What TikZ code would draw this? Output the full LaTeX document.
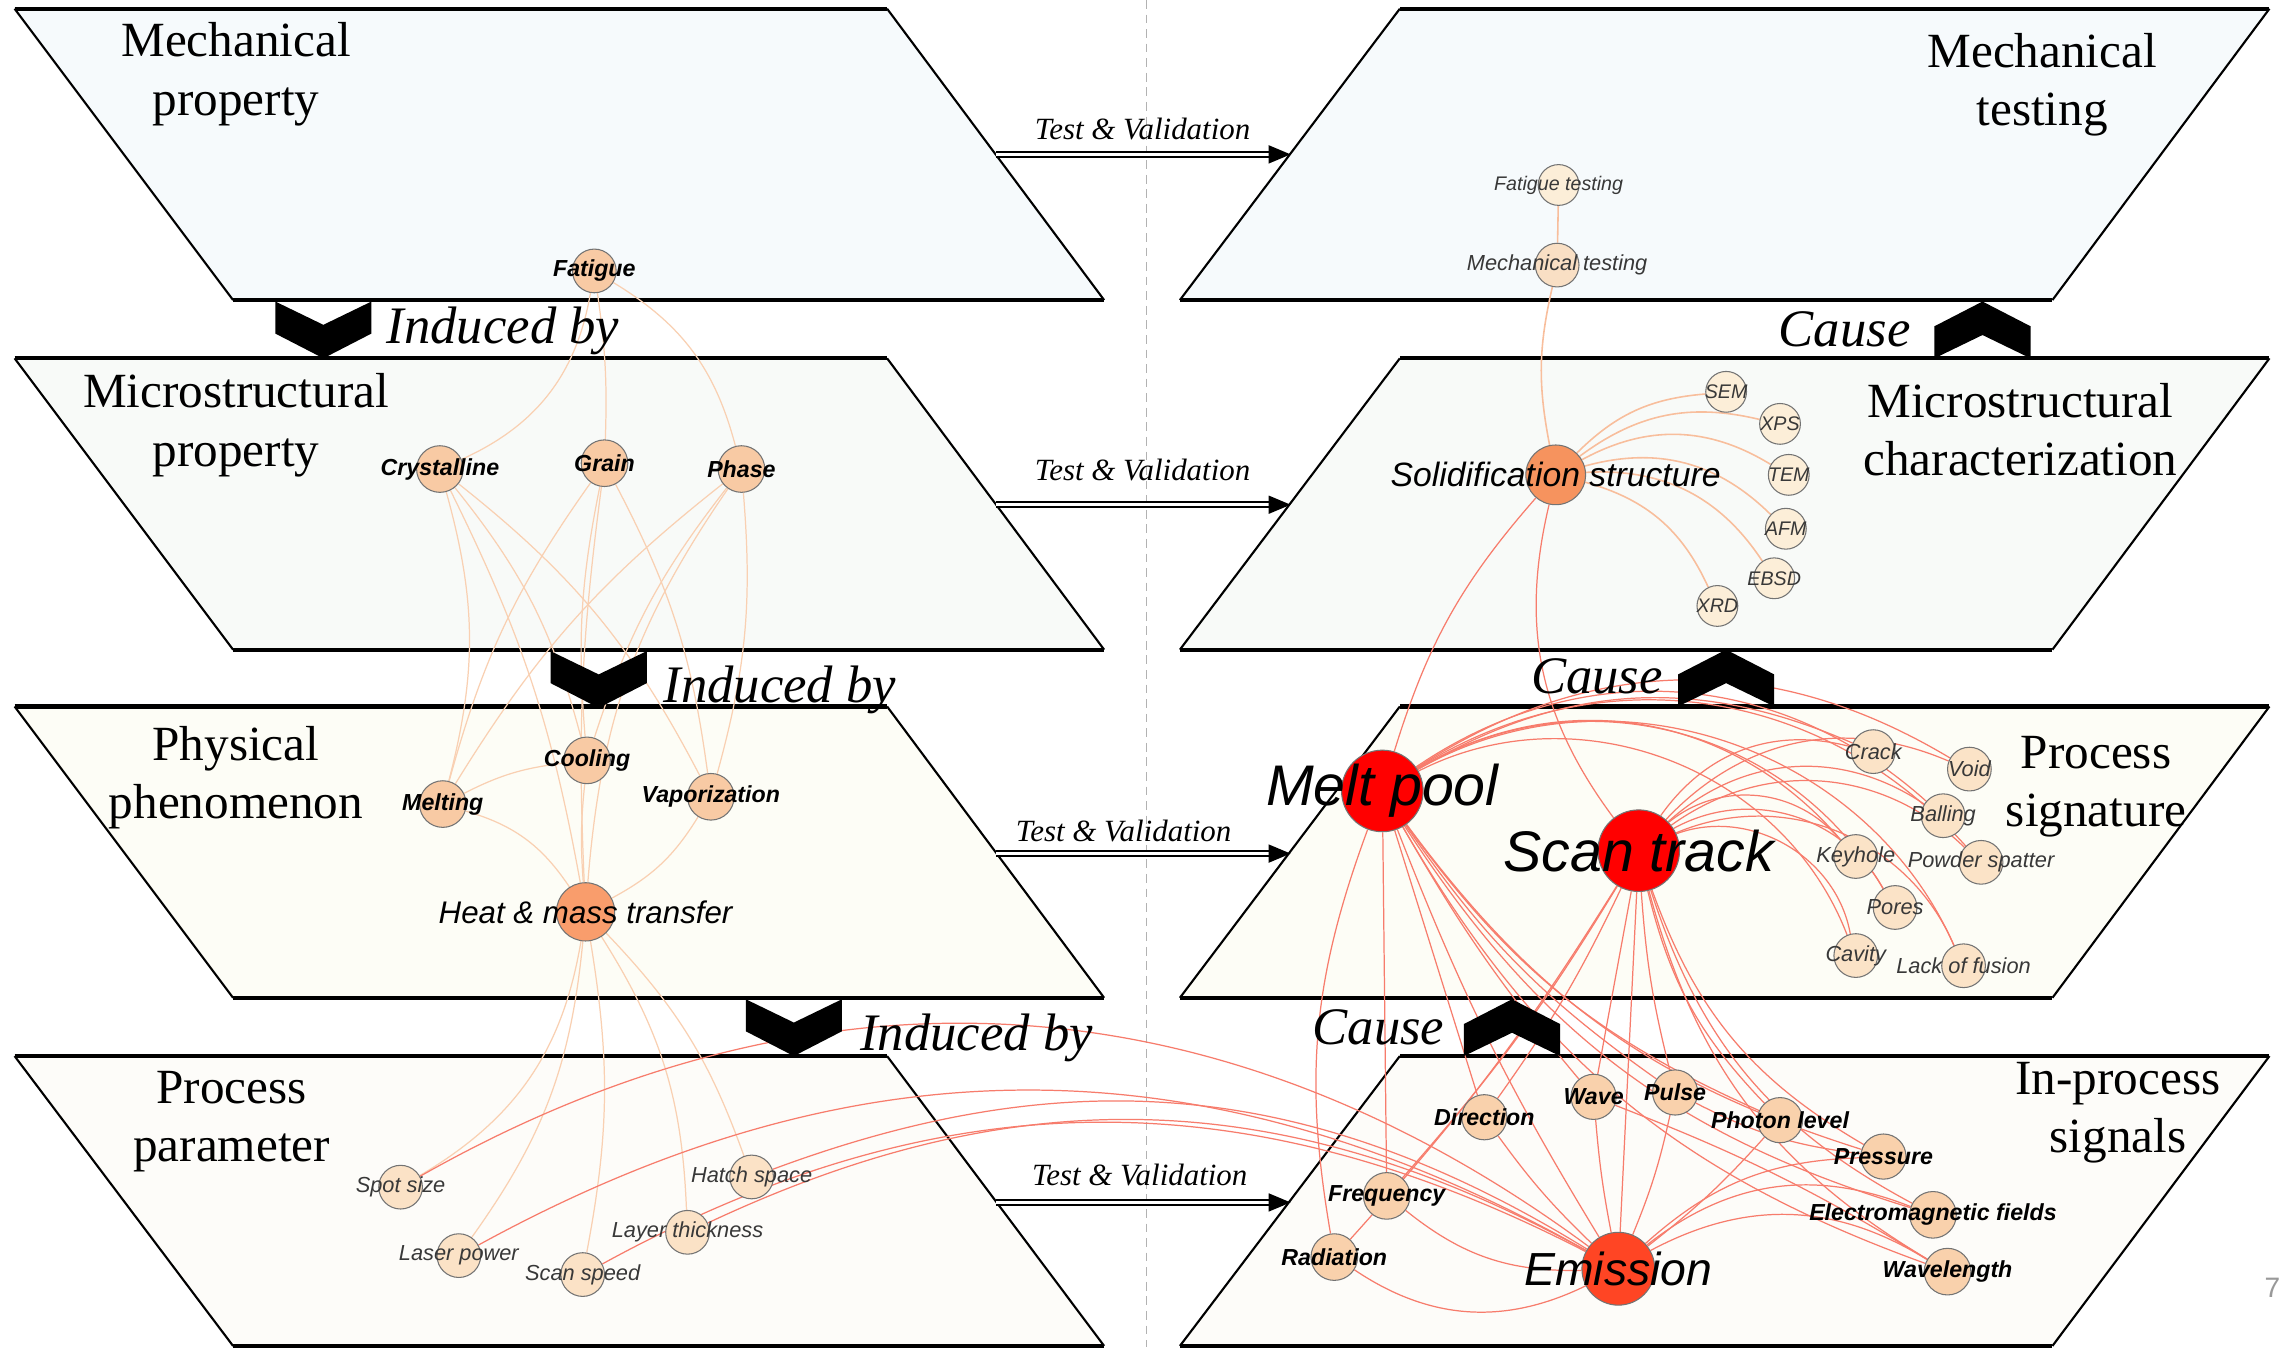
\documentclass[tikz,border=0pt]{standalone}
\usepackage{fontspec}
\setmainfont{Liberation Serif}
\setsansfont{Liberation Sans}
\usetikzlibrary{calc}
\pgfdeclarelayer{bg}
\pgfdeclarelayer{edges}
\pgfsetlayers{bg,edges,main}
\newlength\U
\setlength\U{0.014566cm}
\definecolor{planeA}{HTML}{F6FAFC}
\definecolor{planeB}{HTML}{F8FAF8}
\definecolor{planeC}{HTML}{FDFDF6}
\definecolor{planeD}{HTML}{FDFCF9}
\definecolor{eLeft}{HTML}{F9D0B2}
\definecolor{eRed}{HTML}{F77C6C}
\definecolor{ePeach}{HTML}{F8BE9C}
\definecolor{cPeach}{HTML}{F8CAA4}
\definecolor{cLight}{HTML}{FBE2C6}
\definecolor{cPale}{HTML}{FCEED8}
\definecolor{cMte}{HTML}{F9DFC4}
\definecolor{cHeat}{HTML}{F99D6C}
\definecolor{cSol}{HTML}{F6935E}
\definecolor{cRed}{HTML}{FF0000}
\definecolor{cEmi}{HTML}{FF4524}
\definecolor{cSig}{HTML}{FBE3C7}
\definecolor{cIn}{HTML}{F9D1AC}
\newcommand\drawplane[7]{%
  \fill[#7] (#1,#5) -- (#2,#5) -- (#4,#6) -- (#3,#6) -- cycle;
  \draw[line width=0.6pt] (#1,#5) -- (#3,#6) (#2,#5) -- (#4,#6);
  \draw[line width=1.2pt] (#1,#5) -- (#2,#5) (#3,#6) -- (#4,#6);
}
\newcommand\downchev[2]{\fill (#1,#2) -- ++(33,16) -- ++(33,-16) -- ++(0,22) -- ++(-33,17) -- ++(-33,-17) -- cycle;}
\newcommand\upchev[2]{\fill (#1,#2) -- ++(33,-16) -- ++(33,16) -- ++(0,-22) -- ++(-33,-17) -- ++(-33,17) -- cycle;}
\begin{document}
\begin{tikzpicture}[x=\U, y=-\U,
  nd/.style={circle, draw=black!55, line width=0.3pt, inner sep=0pt, minimum size=30\U},
  lbB/.style={font=\sffamily\bfseries\itshape\fontsize{6.6}{7}\selectfont, inner sep=0pt},
  lbL/.style={font=\sffamily\itshape\fontsize{6.2}{7}\selectfont, text=black!78, inner sep=0pt},
  lbS/.style={font=\sffamily\itshape\fontsize{5.6}{6}\selectfont, text=black!78, inner sep=0pt},
  lbX/.style={font=\sffamily\itshape\fontsize{#1}{#1}\selectfont, inner sep=0pt},
  plab/.style={font=\fontsize{14}{16.6}\selectfont, align=center, inner sep=0pt},
  tv/.style={font=\itshape\fontsize{8.8}{10}\selectfont, inner sep=0pt, anchor=base west},
  ind/.style={font=\itshape\fontsize{15}{16}\selectfont, inner sep=0pt},
  eL/.style={draw=eLeft, line width=0.35pt},
  eR/.style={draw=eRed, line width=0.35pt},
  eP/.style={draw=ePeach, line width=0.45pt},
  tvarrow/.style={line width=0.5pt, double, double distance=0.9pt}
]
\useasboundingbox (0,0) rectangle (1568,925);
\begin{pgfonlayer}{bg}
  \fill[white] (0,0) rectangle (1568,925);
  \draw[black!30, line width=0.4pt, dash pattern=on 6\U off 4\U] (787,0) -- (787,925);
  % left planes
  \drawplane{10}{609}{160}{758}{6}{206}{planeA}
  \drawplane{10}{609}{160}{758}{246}{446}{planeB}
  \drawplane{10}{609}{160}{758}{485}{685}{planeC}
  \drawplane{10}{609}{160}{758}{725}{924}{planeD}
  % right planes
  \drawplane{961}{1558}{810}{1409}{6}{206}{planeA}
  \drawplane{961}{1558}{810}{1409}{246}{446}{planeB}
  \drawplane{961}{1558}{810}{1409}{485}{685}{planeC}
  \drawplane{961}{1558}{810}{1409}{725}{924}{planeD}
\end{pgfonlayer}

% plane titles
\node[plab] at (162,51) {Mechanical\\property};
\node[plab] at (162,292) {Microstructural\\property};
\node[plab] at (162,534) {Physical\\phenomenon};
\node[plab] at (159,770) {Process\\parameter};
\node[plab] at (1402,58) {Mechanical\\testing};
\node[plab] at (1387,295) {Microstructural\\characterization};
\node[plab] at (1439,540) {Process\\signature};
\node[plab] at (1454,764) {In-process\\signals};

% chevrons and their labels
\downchev{189}{207}
\downchev{378}{447}
\downchev{512}{686}
\upchev{1328}{246}
\upchev{1152}{485}
\upchev{1005}{725}
\node[ind, anchor=base west] at (265,236) {Induced by};
\node[ind, anchor=base west] at (455,482) {Induced by};
\node[ind, anchor=base west] at (590,721) {Induced by};
\node[ind, anchor=base east] at (1312,238) {Cause};
\node[ind, anchor=base east] at (1142,476) {Cause};
\node[ind, anchor=base east] at (992,717) {Cause};

% Test & Validation arrows
\coordinate (ta1) at (683.5,106);  \coordinate (tb1) at (886,106);
\coordinate (ta2) at (683.5,346.5);\coordinate (tb2) at (886,346.5);
\coordinate (ta3) at (684,586);    \coordinate (tb3) at (886,586);
\coordinate (ta4) at (684,825.5);  \coordinate (tb4) at (886,825.5);
\foreach \i in {1,2,3,4}{
  \draw[tvarrow] (ta\i) -- ($(tb\i)+(-13,0)$);
  \fill (tb\i) -- ++(-15,-6.3) -- ++(0,12.6) -- cycle;
}
\node[tv] at (710,96) {Test \& Validation};
\node[tv] at (710,330) {Test \& Validation};
\node[tv] at (697,578) {Test \& Validation};
\node[tv] at (708,814) {Test \& Validation};

% ---- nodes, left column
\node[nd, fill=cPeach] (fat) at (408,186) {};
\node[nd, fill=cPeach, minimum size=32\U] (cry) at (302,322) {};
\node[nd, fill=cPeach, minimum size=32\U] (gra) at (415,318) {};
\node[nd, fill=cPeach, minimum size=32\U] (pha) at (509,322) {};
\node[nd, fill=cPeach, minimum size=32\U] (coo) at (403,522) {};
\node[nd, fill=cPeach, minimum size=32\U] (mel) at (304,552) {};
\node[nd, fill=cPeach, minimum size=32\U] (vap) at (488,547) {};
\node[nd, fill=cHeat, minimum size=40\U] (hea) at (402,626) {};
\node[nd, fill=cLight] (spo) at (275,815) {};
\node[nd, fill=cLight] (las) at (315,862) {};
\node[nd, fill=cLight] (ssp) at (400,875) {};
\node[nd, fill=cLight] (lay) at (472,846) {};
\node[nd, fill=cLight] (hat) at (516,808) {};
% ---- nodes, right column
\node[nd, fill=cPale, minimum size=28\U] (fte) at (1070,127) {};
\node[nd, fill=cMte] (mte) at (1069,182) {};
\node[nd, fill=cSol, minimum size=41\U] (sol) at (1068,326) {};
\node[nd, fill=cPale, minimum size=28\U] (sem) at (1185,269) {};
\node[nd, fill=cPale, minimum size=28\U] (xps) at (1222,291) {};
\node[nd, fill=cPale, minimum size=28\U] (tem) at (1228,326) {};
\node[nd, fill=cPale, minimum size=28\U] (afm) at (1226,363) {};
\node[nd, fill=cPale, minimum size=28\U] (ebs) at (1218,397) {};
\node[nd, fill=cPale, minimum size=28\U] (xrd) at (1179,416) {};
\node[nd, fill=cRed, minimum size=56\U] (mpo) at (949,543) {};
\node[nd, fill=cRed, minimum size=56\U] (str) at (1125,584) {};
\node[nd, fill=cSig] (cra) at (1286,516) {};
\node[nd, fill=cSig] (voi) at (1352,528) {};
\node[nd, fill=cSig] (bal) at (1334,560) {};
\node[nd, fill=cSig] (key) at (1274,588) {};
\node[nd, fill=cSig] (pow) at (1360,592) {};
\node[nd, fill=cSig] (por) at (1301,623) {};
\node[nd, fill=cSig] (cav) at (1274,656) {};
\node[nd, fill=cSig] (lof) at (1348,663) {};
\node[nd, fill=cIn, minimum size=31\U] (dir) at (1019,767) {};
\node[nd, fill=cIn, minimum size=31\U] (wav) at (1094,753) {};
\node[nd, fill=cIn, minimum size=31\U] (pul) at (1150,750) {};
\node[nd, fill=cIn, minimum size=31\U] (pho) at (1222,769) {};
\node[nd, fill=cIn, minimum size=31\U] (pre) at (1293,794) {};
\node[nd, fill=cIn, minimum size=32\U] (fre) at (952,821) {};
\node[nd, fill=cIn, minimum size=32\U] (emf) at (1327,834) {};
\node[nd, fill=cIn, minimum size=32\U] (rad) at (916,863) {};
\node[nd, fill=cIn, minimum size=32\U] (wvl) at (1337,873) {};
\node[nd, fill=cEmi, minimum size=50\U] (emi) at (1111,871) {};

% ---- edges
\begin{pgfonlayer}{edges}
  \foreach \a/\b/\c in {fat/cry/28,fat/gra/5,fat/pha/22,cry/mel/15,cry/coo/12,cry/vap/12,cry/hea/8,gra/coo/-8,gra/vap/10,gra/hea/-5,gra/mel/-10,pha/coo/-10,pha/vap/10,pha/hea/-15,pha/mel/-10,mel/coo/10,mel/hea/20,coo/hea/-5,vap/hea/15,hea/spo/25,hea/las/15,hea/ssp/10,hea/lay/15,hea/hat/12}
    \draw[eL] (\a) to[bend left=\c] (\b);
  \foreach \a/\c in {spo/33,las/29,ssp/28,lay/27,hat/26}
    \draw[eR] (\a) to[bend left=\c] (emi);
  \draw[eP] (fte) -- (mte);
  \draw[eP] (mte) to[bend right=12] (sol);
  \foreach \b/\c in {sem/20,xps/25,tem/30,afm/30,ebs/30,xrd/25}
    \draw[eP] (sol) to[bend left=\c] (\b);
  \draw[eR] (sol) to[bend right=12] (mpo);
  \draw[eR] (sol) to[bend right=25] (str);
  \foreach \b/\c in {cra/27,voi/32,bal/38,key/40,pow/40,por/45,cav/48,lof/48}
    \draw[eR] (mpo) to[bend left=\c] (\b);
  \foreach \b/\c in {cra/35,voi/35,bal/38,key/45,pow/40,por/45,cav/50,lof/45}
    \draw[eR] (str) to[bend left=\c] (\b);
  \foreach \b/\c in {rad/-15,fre/0,dir/0,wav/-5,pul/-10,pho/-15,pre/-18,emf/-20,wvl/-20,emi/-5}
    \draw[eR] (mpo) to[bend left=\c] (\b);
  \foreach \b/\c in {dir/5,fre/5,rad/5,wav/0,pul/-5,pho/-15,pre/-20,emf/-22,wvl/-22,emi/0}
    \draw[eR] (str) to[bend left=\c] (\b);
  \foreach \b/\c in {rad/30,fre/20,dir/5,wav/3,pul/-5,pho/-5,pre/20,emf/30,wvl/30}
    \draw[eR] (emi) to[bend left=\c] (\b);
  \draw[eR] (wav) to[bend left=5] (wvl);
  \draw[eR] (pul) to[bend right=10] (pre);
\end{pgfonlayer}

% ---- labels
\node[lbB] at (fat) {Fatigue};
\node[lbB] at (cry) {Crystalline};
\node[lbB] at (gra) {Grain};
\node[lbB] at (pha) {Phase};
\node[lbB] at (coo) {Cooling};
\node[lbB] at (mel) {Melting};
\node[lbB] at (vap) {Vaporization};
\node[lbX=8.9] at (hea) {Heat \& mass transfer};
\node[lbL] at (spo) {Spot size};
\node[lbL] at (las) {Laser power};
\node[lbL] at (ssp) {Scan speed};
\node[lbL] at (lay) {Layer thickness};
\node[lbL] at (hat) {Hatch space};
\node[lbS] at (fte) {Fatigue testing};
\node[lbL] at (mte) {Mechanical testing};
\node[lbX=9.6] at (sol) {Solidification structure};
\node[lbS] at (sem) {SEM};
\node[lbS] at (xps) {XPS};
\node[lbS] at (tem) {TEM};
\node[lbS] at (afm) {AFM};
\node[lbS] at (ebs) {EBSD};
\node[lbS] at (xrd) {XRD};
\node[lbX=16.3] at (mpo) {Melt pool};
\node[lbX=16.3] at (str) {Scan track};
\node[lbL] at (cra) {Crack};
\node[lbL] at (voi) {Void};
\node[lbL] at (bal) {Balling};
\node[lbL] at (key) {Keyhole};
\node[lbL] at (pow) {Powder spatter};
\node[lbL] at (por) {Pores};
\node[lbL] at (cav) {Cavity};
\node[lbL] at (lof) {Lack of fusion};
\node[lbB] at (dir) {Direction};
\node[lbB] at (wav) {Wave};
\node[lbB] at (pul) {Pulse};
\node[lbB] at (pho) {Photon level};
\node[lbB] at (pre) {Pressure};
\node[lbB] at (fre) {Frequency};
\node[lbB] at (emf) {Electromagnetic fields};
\node[lbB] at (rad) {Radiation};
\node[lbB] at (wvl) {Wavelength};
\node[lbX=13.2] at (emi) {Emission};
\node[font=\sffamily\fontsize{8}{9}\selectfont, text=black!40, inner sep=0pt] (pg) at (1560,884) {7};
\end{tikzpicture}
\end{document}
